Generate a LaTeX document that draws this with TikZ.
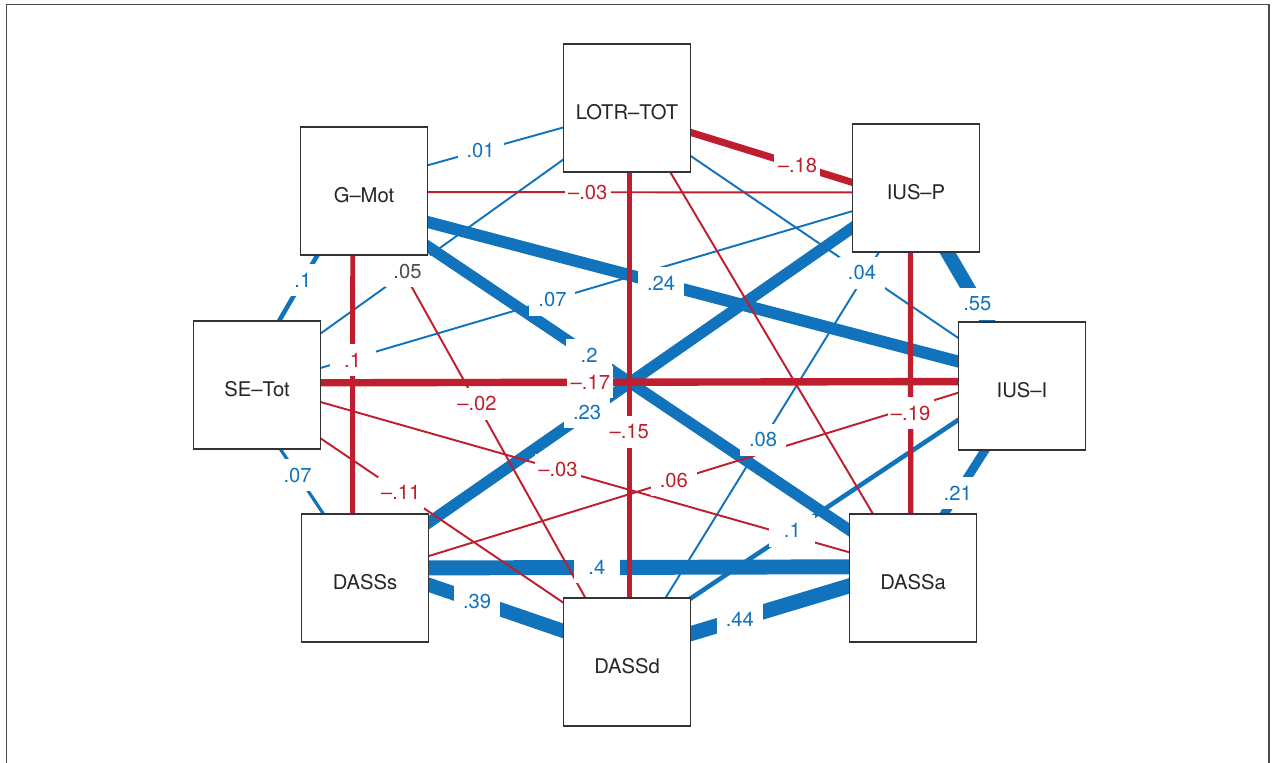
\documentclass[tikz,border=0pt]{standalone}
\usepackage{fontspec}
\setmainfont{TeX Gyre Heros}
\definecolor{eblue}{RGB}{17,115,187}
\definecolor{ered}{RGB}{190,30,45}
\pgfdeclarelayer{edges}
\pgfdeclarelayer{labels}
\pgfsetlayers{edges,labels,main}

\begin{document}
\begin{tikzpicture}[
    x=0.02cm, y=-0.02cm,
    varbox/.style={rectangle, draw=black!80, fill=white, line width=0.8pt, minimum width=2.54cm, minimum height=2.56cm, inner sep=0pt, outer sep=0pt, text=black!85, font=\fontsize{11.5}{13}\selectfont, text height=13.5pt, text depth=0pt},
    link/.style={shorten <=-2pt, shorten >=-2pt},
    weight/.style={fill=white, inner sep=0pt, minimum width=0.92cm, minimum height=0.64cm, font=\fontsize{11.5}{13}\selectfont}
]

\useasboundingbox (0,0) rectangle (1274,763);
\draw[black!70, line width=1pt] (6.5,763) -- (6.5,4.5) -- (1269,4.5) -- (1269,763);

\node[varbox] (L) at (627,108) {LOTR–TOT};
\node[varbox] (G) at (364,191) {G–Mot};
\node[varbox] (P) at (916,188) {IUS–P};
\node[varbox] (S) at (257,385) {SE–Tot};
\node[varbox] (I) at (1022,386) {IUS–I};
\node[varbox] (Ss) at (365,578) {DASSs};
\node[varbox] (D) at (627,662) {DASSd};
\node[varbox] (A) at (913,578) {DASSa};

% from / to / width / colour / label pos / label
\def\edgelist{
    G.22.4/L.197.4/1.1pt/eblue/0.39/.01,
    G.-26.6/I.159.4/6.8pt/eblue/0.44/.24,
    G.-41.2/A.143.4/6.4pt/eblue/0.383/.2,
    Ss.41.7/P.212.6/6.4pt/eblue/0.374/.23,
    S.39.5/L.219.1/1.1pt/eblue/0.358/\textcolor{black!70}{.05},
    S.15.9/P.200.6/1.1pt/eblue/0.436/.07,
    S.-70.2/Ss.123.9/1.8pt/eblue/0.4/.07,
    S.71.8/G.-126.3/2.6pt/eblue/0.62/.1,
    L.-37.3/I.143.1/1.1pt/eblue/0.64/.04,
    P.-120.7/D.59.3/1.1pt/eblue/0.543/.08,
    I.-152/D.45.4/2.6pt/eblue/0.62/.1,
    Ss.9.75/A.170.1/8.5pt/eblue/0.40/.4,
    Ss.-6.2/D.154.2/8pt/eblue/0.36/.39,
    D.24.7/A.187.2/8.5pt/eblue/0.31/.44,
    I.-120/A.64.2/5pt/eblue/0.67/.21,
    P.-64.2/I.118/8pt/eblue/0.74/.55,
    G.-1/P.184/1.1pt/ered/0.377/–.03,
    G.-100.6/Ss.101.5/2.8pt/ered/0.405/.1,
    G.-65.6/D.123.3/1.1pt/ered/0.434/–.02,
    S.2.7/I.176.4/4.2pt/ered/0.423/–.17,
    S.-15.1/A.158.4/1.1pt/ered/0.449/–.03,
    S.-40.6/D.137.3/1.1pt/ered/0.33/–.11,
    L.-88.2/D.88.2/2.7pt/ered/0.61/–.15,
    L.-21.6/P.175.5/4pt/ered/0.66/–.18,
    Ss.19.8/I.186.2/1.1pt/ered/0.463/.06,
    P.-95.4/A.92.7/3pt/ered/0.615/–.19}

\begin{pgfonlayer}{edges}
\foreach \a/\b/\w/\c/\p/\t in \edgelist
    \draw[link, \c, line width=\w] (\a) -- (\b);
\draw[link, ered, line width=1.1pt] (L.-56.7) -- (A.122.6);
\end{pgfonlayer}

\begin{pgfonlayer}{labels}
\foreach \a/\b/\w/\c/\p/\t in \edgelist
    \path (\a) -- (\b) node[weight, text=\c, pos=\p] {\t};
\end{pgfonlayer}

\end{tikzpicture}
\end{document}
